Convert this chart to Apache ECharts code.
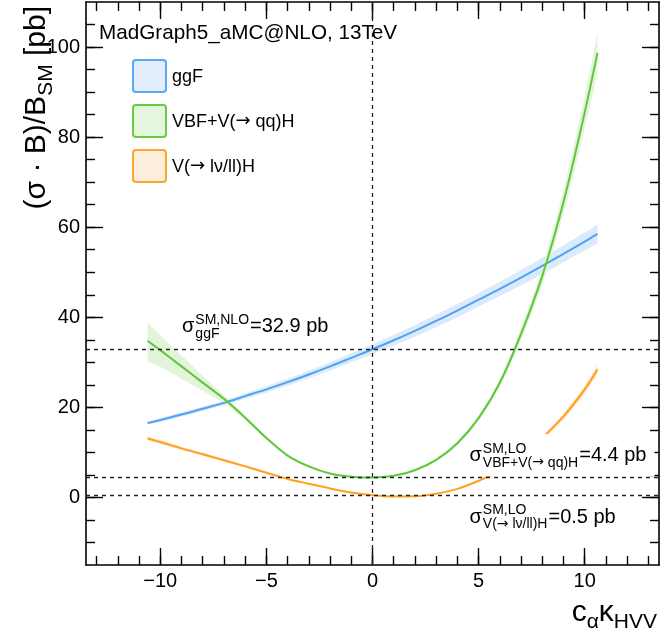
<!DOCTYPE html>
<html>
<head>
<meta charset="utf-8">
<script src="https://cdn.jsdelivr.net/npm/echarts@6/dist/echarts.min.js"></script>
<style>
  html, body { margin: 0; padding: 0; background: #fff; }
  #chart { width: 662px; height: 634px; }
</style>
</head>
<body>
<div id="chart"></div>
<script>
// Scan over c_alpha * kappa_HVV
const kappa   = [-10.6, -10, -9, -8, -7, -6, -5, -4, -3, -2, -1, 0, 1, 2, 3, 4, 5, 6, 7, 8, 9, 10, 10.6];

// ggF: (sigma x B)/B_SM [pb] with its uncertainty band
const ggF     = [16.5, 17.2, 18.4, 19.7, 21.0, 22.5, 24.0, 25.6, 27.3, 29.1, 31.0, 32.9, 34.9, 37.0, 39.2, 41.5, 43.9, 46.3, 48.8, 51.4, 54.1, 56.8, 58.5];
const ggFUp   = [16.85, 17.6, 18.9, 20.2, 21.55, 23.1, 24.7, 26.35, 28.15, 30.0, 32.0, 34.0, 36.1, 38.3, 40.6, 43.0, 45.4, 47.9, 50.5, 53.2, 56.0, 58.8, 60.6];
const ggFDown = [16.15, 16.8, 17.9, 19.2, 20.45, 21.9, 23.3, 24.85, 26.45, 28.2, 30.0, 31.8, 33.7, 35.7, 37.8, 40.0, 42.4, 44.7, 47.1, 49.6, 52.2, 54.8, 56.4];

// VBF + V(-> qq)H
const vbf     = [34.8, 32.7, 29.1, 25.5, 21.9, 17.7, 13.2, 9.3, 6.9, 5.3, 4.6, 4.4, 4.8, 6.05, 8.35, 12.05, 17.6, 25.45, 36.3, 49.2, 65.6, 85.5, 98.7];
const vbfUp   = [38.8, 36.0, 31.5, 27.0, 22.7, 18.2, 13.55, 9.55, 7.1, 5.45, 4.72, 4.5, 4.92, 6.2, 8.6, 12.45, 18.2, 26.35, 37.6, 51.1, 68.2, 89.1, 103.1];
const vbfDown = [30.1, 29.0, 26.3, 23.7, 20.9, 17.2, 12.85, 9.05, 6.7, 5.15, 4.48, 4.3, 4.68, 5.9, 8.1, 11.65, 17.0, 24.55, 35.0, 47.3, 63.0, 81.9, 94.1];

// V(-> lnu/ll)H
const vlh     = [13.1, 12.3, 10.9, 9.6, 8.25, 6.9, 5.5, 4.1, 3.05, 2.0, 1.1, 0.5, 0.2, 0.25, 0.8, 1.9, 3.7, 5.9, 9.0, 13.2, 18.0, 24.0, 28.4];
const vlhUp   = [13.55, 12.73, 11.28, 9.94, 8.54, 7.14, 5.69, 4.24, 3.16, 2.07, 1.14, 0.52, 0.21, 0.26, 0.83, 1.97, 3.83, 6.11, 9.32, 13.66, 18.63, 24.84, 29.39];
const vlhDown = [12.65, 11.87, 10.52, 9.26, 7.96, 6.66, 5.31, 3.96, 2.94, 1.93, 1.06, 0.48, 0.19, 0.24, 0.77, 1.83, 3.57, 5.69, 8.69, 12.74, 17.37, 23.16, 27.41];

// Process names, SM cross sections and their perturbative order
const processes = ['ggF', 'VBF+V(→ qq)H', 'V(→ lν/ll)H'];
const smOrder   = ['NLO', 'LO', 'LO'];
const smXsec    = [32.9, 4.4, 0.5];
const smKappa   = 0;

// Axis ticks
const xMajorTicks = [-10, -5, 0, 5, 10];
const xMinorTicks = [-13, -12, -11, -10, -9, -8, -7, -6, -5, -4, -3, -2, -1, 0, 1, 2, 3, 4, 5, 6, 7, 8, 9, 10, 11, 12, 13];
const yMajorTicks = [0, 20, 40, 60, 80, 100];
const yMinorTicks = [-10, -5, 0, 5, 10, 15, 20, 25, 30, 35, 40, 45, 50, 55, 60, 65, 70, 75, 80, 85, 90, 95, 100, 105];

const FONT = '"Liberation Sans", Arial, Helvetica, sans-serif';
const ARROW_FONT = '"DejaVu Sans", sans-serif';
const COLORS = [
  { line: '#4fa2f4', band: '#dcebfc', fill: '#e3effd', stroke: '#5aa8f5' },
  { line: '#5ec83b', band: '#e3f4da', fill: '#e6f5de', stroke: '#66cc44' },
  { line: '#ffa11c', band: '#fde6c8', fill: '#fdeedb', stroke: '#fba42e' }
];

const chart = echarts.init(document.getElementById('chart'), null, { renderer: 'canvas' });

const fmtTick = v => (v < 0 ? '\u2212' + Math.abs(v) : String(v));

function tickAxis(kind, grid, pos, ticks, len, withLine, withLabels) {
  const ax = {
    type: 'value', gridIndex: grid, position: pos,
    min: kind === 'x' ? -13.5 : -15, max: kind === 'x' ? 13.5 : 110,
    splitLine: { show: false },
    axisLine: { show: withLine, onZero: false, lineStyle: { color: '#000', width: 1.6 } },
    axisTick: { show: true, inside: true, length: len, customValues: ticks, lineStyle: { color: '#000', width: 1.4 } },
    axisLabel: { show: false }
  };
  if (withLabels) {
    ax.axisLabel = {
      show: true, customValues: ticks, formatter: fmtTick,
      fontSize: 20, fontFamily: FONT, color: '#000', margin: 6
    };
  }
  return ax;
}

// Smooth band drawn as a closed path through the library's coordinate mapping
function curveSegments(pts) {
  let d = '';
  for (let i = 0; i < pts.length - 1; i++) {
    const p0 = pts[Math.max(i - 1, 0)], p1 = pts[i], p2 = pts[i + 1], p3 = pts[Math.min(i + 2, pts.length - 1)];
    const c1 = [p1[0] + (p2[0] - p0[0]) / 6, p1[1] + (p2[1] - p0[1]) / 6];
    const c2 = [p2[0] - (p3[0] - p1[0]) / 6, p2[1] - (p3[1] - p1[1]) / 6];
    d += ' C' + c1[0] + ' ' + c1[1] + ' ' + c2[0] + ' ' + c2[1] + ' ' + p2[0] + ' ' + p2[1];
  }
  return d;
}

function bandSeries(up, down, color) {
  const data = kappa.map((x, i) => [x, down[i], up[i]]);
  return {
    type: 'custom', xAxisIndex: 0, yAxisIndex: 0, silent: true, z: 1,
    data: data, encode: { x: 0, y: [1, 2] },
    renderItem: function (params, api) {
      if (params.dataIndex !== 0) return null;
      const top = data.map(d => api.coord([d[0], d[2]]));
      const bot = data.map(d => api.coord([d[0], d[1]])).reverse();
      const path = 'M' + top[0][0] + ' ' + top[0][1] + curveSegments(top) +
        ' L' + bot[0][0] + ' ' + bot[0][1] + curveSegments(bot) + ' Z';
      return { type: 'path', shape: { pathData: path }, style: { fill: color, stroke: null } };
    }
  };
}

function curveSeries(name, ys, color) {
  return {
    type: 'line', name: name, xAxisIndex: 0, yAxisIndex: 0,
    data: kappa.map((x, i) => [x, ys[i]]),
    symbol: 'none', showSymbol: false, smooth: 0.35, silent: true, z: 3,
    lineStyle: { color: color, width: 2 }, itemStyle: { color: color }
  };
}

const refLines = {
  type: 'line', xAxisIndex: 0, yAxisIndex: 0, data: [], z: 4, silent: true,
  markLine: {
    silent: true, symbol: ['none', 'none'], animation: false,
    label: { show: false },
    lineStyle: { color: '#222', type: [4, 4], width: 1.3 },
    emphasis: { disabled: true },
    data: smXsec.map(v => ({ yAxis: v })).concat([{ xAxis: smKappa }])
  }
};

chart.setOption({
  animation: false,
  backgroundColor: '#fff',
  grid: [
    { left: 86, right: 3, top: 2, bottom: 69, containLabel: false, outerBoundsMode: 'none' },
    { left: 86, right: 3, top: 2, bottom: 69, containLabel: false, outerBoundsMode: 'none' }
  ],
  xAxis: [
    tickAxis('x', 0, 'bottom', xMajorTicks, 17, true, true),
    tickAxis('x', 0, 'top', xMajorTicks, 17, true, false),
    tickAxis('x', 1, 'bottom', xMinorTicks, 9, false, false),
    tickAxis('x', 1, 'top', xMinorTicks, 9, false, false)
  ],
  yAxis: [
    tickAxis('y', 0, 'left', yMajorTicks, 17, true, true),
    tickAxis('y', 0, 'right', yMajorTicks, 17, true, false),
    tickAxis('y', 1, 'left', yMinorTicks, 9, false, false),
    tickAxis('y', 1, 'right', yMinorTicks, 9, false, false)
  ],
  series: [
    bandSeries(ggFUp, ggFDown, COLORS[0].band),
    bandSeries(vbfUp, vbfDown, COLORS[1].band),
    bandSeries(vlhUp, vlhDown, COLORS[2].band),
    curveSeries(processes[0], ggF, COLORS[0].line),
    curveSeries(processes[1], vbf, COLORS[1].line),
    curveSeries(processes[2], vlh, COLORS[2].line),
    refLines
  ]
});

// ---- text layer: legend, header, axis titles, SM annotations ----
const mctx = document.createElement('canvas').getContext('2d');
function tw(t, s, fam) { mctx.font = s + 'px ' + (fam || FONT); return mctx.measureText(t).width; }
function txt(t, x, base, s, fam) {
  return {
    type: 'text', x: x, y: base - 0.32 * s, z: 100, silent: true,
    style: { text: t, fontSize: s, fontFamily: fam || FONT, fill: '#000', align: 'left', verticalAlign: 'middle' }
  };
}
// a run of text on one baseline; arrows use a font with a full-size glyph
function textRun(str, x0, base, s) {
  const els = [];
  let x = x0;
  str.split(/(→)/).forEach(piece => {
    if (!piece) return;
    const fam = piece === '→' ? ARROW_FONT : FONT;
    els.push(txt(piece, x, base, s, fam));
    x += tw(piece, s, fam);
  });
  return { els: els, width: x - x0 };
}
// parts: [{t, s, dy}] laid out left to right on a common baseline
function formula(parts) {
  const els = [];
  let x = 0;
  parts.forEach(p => { const r = textRun(p.t, x, p.dy || 0, p.s); els.push(...r.els); x += r.width; });
  return { els: els, width: x };
}
function sigmaLabel(x0, base, sup, sub, rest, boxed) {
  const S = 20, s = 14;
  const xs = x0 + tw('σ', S) + 1;
  const supRun = textRun(sup, xs, base - 8.5, s);
  const subRun = textRun(sub, xs, base + 5, s);
  const xr = xs + Math.max(supRun.width, subRun.width) + 1;
  const restRun = textRun(rest, xr, base, S);
  const els = [txt('σ', x0, base, S)].concat(supRun.els, subRun.els, restRun.els);
  if (boxed) {
    const right = xr + restRun.width + 8;
    els.unshift({ type: 'rect', z: 99, silent: true, shape: { x: x0 - 2, y: base - 28, width: right - x0 + 2, height: 42 }, style: { fill: '#fff' } });
  }
  return els;
}

const py = v => chart.convertToPixel({ xAxisIndex: 0, yAxisIndex: 0 }, [0, v])[1];
const graphics = [];

// header
graphics.push(txt('MadGraph5_aMC@NLO, 13TeV', 99, 39.5, 20.7));

// legend
processes.forEach((name, i) => {
  const top = 60 + 45 * i;
  graphics.push({ type: 'rect', z: 100, silent: true, shape: { x: 133, y: top, width: 33, height: 32, r: 3 }, style: { fill: COLORS[i].fill, stroke: COLORS[i].stroke, lineWidth: 2 } });
  graphics.push(...textRun(name, 172, top + 22.5, 18).els);
});

// SM reference annotations
const eq = v => '=' + v + ' pb';
graphics.push(...sigmaLabel(182, py(smXsec[0]) - 16, 'SM,' + smOrder[0], processes[0], eq(smXsec[0]), false));
graphics.push(...sigmaLabel(469.5, py(smXsec[1]) - 15.5, 'SM,' + smOrder[1], processes[1], eq(smXsec[1]), true));
graphics.push(...sigmaLabel(469.5, py(smXsec[2]) + 28.3, 'SM,' + smOrder[2], processes[2], eq(smXsec[2]), false));

// x-axis title
const xt = formula([{ t: 'c', s: 30 }, { t: 'α', s: 21, dy: 7 }, { t: 'κ', s: 30 }, { t: 'HVV', s: 21, dy: 7 }]);
graphics.push({ type: 'group', x: 657 - xt.width, y: 622, children: xt.els });

// y-axis title (reads bottom to top)
const yt = formula([{ t: '(σ · B)/B', s: 30 }, { t: 'SM', s: 21, dy: 7 }, { t: ' [pb]', s: 30 }]);
graphics.push({ type: 'group', x: 46, y: 6 + yt.width, rotation: Math.PI / 2, children: yt.els });

chart.setOption({ graphic: graphics });
</script>
</body>
</html>
